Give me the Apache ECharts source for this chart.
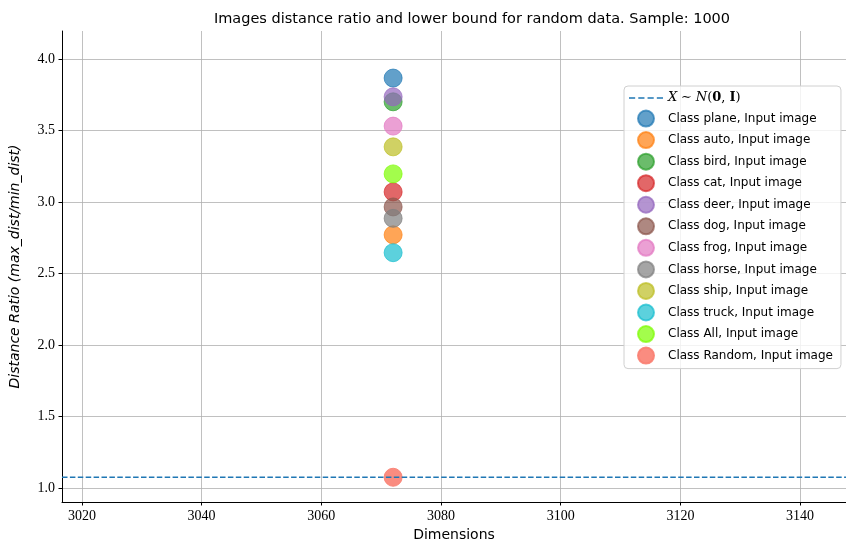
<!DOCTYPE html>
<html>
<head>
<meta charset="utf-8">
<script src="https://cdn.jsdelivr.net/npm/echarts@6/dist/echarts.min.js"></script>
<style>html,body{margin:0;padding:0;background:#fff;}#chart{width:846px;height:547px;}</style>
</head>
<body>
<div id="chart"></div>
<script>
const classNames = ['plane', 'auto', 'bird', 'cat', 'deer', 'dog', 'frog', 'horse', 'ship', 'truck', 'All', 'Random'];
const ratios = [3.866, 2.77, 3.70, 3.07, 3.735, 2.965, 3.53, 2.885, 3.385, 2.645, 3.196, 1.075];
const dimension = 3072;
const lowerBound = 1.075;
const xRange = [3016.67, 3147.67];
const yRange = [0.902, 4.195];
const xTicks = [3020, 3040, 3060, 3080, 3100, 3120, 3140];
const yTicks = [1.0, 1.5, 2.0, 2.5, 3.0, 3.5, 4.0];
const colors = ['31,119,180,0.7', '255,127,14,0.7', '44,160,44,0.7', '214,39,40,0.7', '148,103,189,0.7', '140,86,75,0.7', '227,119,194,0.7', '127,127,127,0.7', '188,189,34,0.7', '23,190,207,0.7', '124,252,0,0.7', '250,128,114,0.9'];
const lineName = 'X ~ N(0, I)';

const chart = echarts.init(document.getElementById('chart'));
const serif = 'Liberation Serif';
const sans = 'DejaVu Sans';

const series = [{
  name: lineName,
  type: 'line',
  data: [[xRange[0], lowerBound], [xRange[1], lowerBound]],
  symbol: 'none',
  showSymbol: false,
  lineStyle: { color: '#1f77b4', width: 1.5, type: [5.5, 2.4] },
  itemStyle: { color: '#1f77b4' },
  z: 30,
  silent: true
}];
classNames.forEach((c, i) => {
  series.push({
    name: 'Class ' + c + ', Input image',
    type: 'scatter',
    data: [[dimension, ratios[i]]],
    symbolSize: 18,
    itemStyle: {
      color: 'rgba(' + colors[i] + ')',
      borderColor: 'rgba(' + colors[i] + ')',
      borderWidth: 1,
      opacity: 1
    },
    z: 2 + i
  });
});

const dashIcon = 'path://M0,0h6v1.5h-6z M9,0h6v1.5h-6z M18,0h6v1.5h-6z M27,0h6v1.5h-6z';

chart.setOption({
  animation: false,
  backgroundColor: '#fff',
  title: {
    text: 'Images distance ratio and lower bound for random data. Sample: 1000',
    left: 467,
    top: 7,
    textAlign: 'center',
    textStyle: { fontFamily: sans, fontSize: 14.5, fontWeight: 'normal', color: '#000' }
  },
  grid: { left: 60, top: 31, right: 0, bottom: 44, containLabel: false },
  xAxis: {
    type: 'value',
    min: xRange[0],
    max: xRange[1],
    name: 'Dimensions',
    nameLocation: 'middle',
    nameGap: 26,
    nameTextStyle: { fontFamily: sans, fontSize: 14, color: '#000' },
    axisLine: { show: true, onZero: false, lineStyle: { color: '#000', width: 1 } },
    axisTick: { show: true, length: 3.5, lineStyle: { color: '#000' }, customValues: xTicks },
    axisLabel: { customValues: xTicks, fontFamily: serif, fontSize: 14, color: '#000', margin: 7,
      formatter: v => String(Math.round(v)) },
    splitLine: { show: true, lineStyle: { color: '#b0b0b0', width: 0.8 } }
  },
  yAxis: {
    type: 'value',
    min: yRange[0],
    max: yRange[1],
    name: 'Distance Ratio (max_dist/min_dist)',
    nameLocation: 'middle',
    nameGap: 40,
    nameTextStyle: { fontFamily: sans, fontSize: 14, fontStyle: 'italic', color: '#000' },
    axisLine: { show: true, onZero: false, lineStyle: { color: '#000', width: 1 } },
    axisTick: { show: true, length: 3.5, lineStyle: { color: '#000' }, customValues: yTicks },
    axisLabel: { customValues: yTicks, fontFamily: serif, fontSize: 14, color: '#000', margin: 7,
      formatter: v => v.toFixed(1) },
    splitLine: { show: true, lineStyle: { color: '#b0b0b0', width: 0.8 } }
  },
  legend: {
    orient: 'vertical',
    left: 624,
    top: 86,
    padding: [4, 8, 4, 5],
    itemWidth: 34,
    itemHeight: 16,
    itemGap: 3.55,
    backgroundColor: 'rgba(255,255,255,0.8)',
    borderColor: '#d0d0d0',
    borderWidth: 1,
    borderRadius: 4,
    selectedMode: false,
    data: [{ name: lineName, icon: dashIcon, itemStyle: { color: '#1f77b4' } }]
      .concat(classNames.map(c => ({ name: 'Class ' + c + ', Input image', icon: 'circle' }))),
    formatter: function (name) {
      if (name === lineName) {
        return '{i|X} {n|\u223C} {i|N}{n|(}{b|0}{n|, }{b|I}{n|)}';
      }
      return name;
    },
    textStyle: {
      fontFamily: sans, fontSize: 12, color: '#000', lineHeight: 16,
      rich: {
        i: { fontFamily: 'DejaVu Serif', fontStyle: 'italic', fontSize: 13, color: '#000', lineHeight: 16 },
        n: { fontFamily: 'DejaVu Serif', fontSize: 13, color: '#000', lineHeight: 16 },
        b: { fontFamily: 'DejaVu Serif', fontWeight: 'bold', fontSize: 13, color: '#000', lineHeight: 16 }
      }
    }
  },
  series: series
});
</script>
</body>
</html>
